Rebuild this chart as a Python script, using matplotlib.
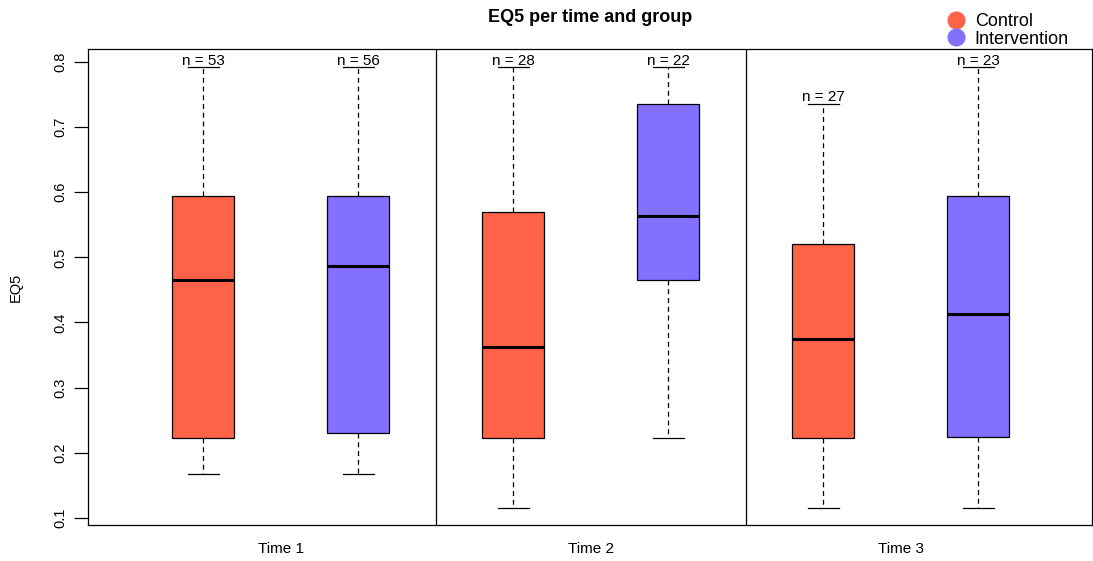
import matplotlib
matplotlib.use("Agg")
import matplotlib.pyplot as plt
from matplotlib.lines import Line2D

plt.rcParams['font.family'] = ['Liberation Sans', 'DejaVu Sans']

# box statistics, order: T1 ctrl, T1 int, T2 ctrl, T2 int, T3 ctrl, T3 int
groups = ["Control", "Intervention", "Control", "Intervention", "Control", "Intervention"]
whislo = [0.168, 0.168, 0.115, 0.223, 0.115, 0.115]
q1 = [0.223, 0.230, 0.223, 0.465, 0.223, 0.224]
med = [0.465, 0.486, 0.362, 0.564, 0.374, 0.413]
q3 = [0.595, 0.595, 0.570, 0.736, 0.520, 0.595]
whishi = [0.792, 0.792, 0.792, 0.792, 0.736, 0.792]
counts = [53, 56, 28, 22, 27, 23]
times = ["Time 1", "Time 2", "Time 3"]
colors = {"Control": "#FF6347", "Intervention": "#8470FF"}

stats = [dict(whislo=a, q1=b, med=c, q3=d, whishi=e, fliers=[])
         for a, b, c, d, e in zip(whislo, q1, med, q3, whishi)]
pos = list(range(1, len(stats) + 1))

fig = plt.figure(figsize=(10.93, 5.61), dpi=100)
ax = fig.add_axes([88 / 1093, 36 / 561, 1004 / 1093, 476 / 561])

bp = ax.bxp(stats, positions=pos, widths=0.4, patch_artist=True, showfliers=False,
            boxprops=dict(edgecolor="black", linewidth=0.9),
            medianprops=dict(color="black", linewidth=2.2),
            whiskerprops=dict(color="black", linestyle=(0, (4, 3)), linewidth=0.9),
            capprops=dict(color="black", linewidth=0.9), capwidths=0.2)
for patch, g in zip(bp["boxes"], groups):
    patch.set_facecolor(colors[g])

# sample sizes above the upper whiskers
for p, hi, n in zip(pos, whishi, counts):
    ax.text(p, hi - 0.001, f"n = {n}", ha="center", va="bottom", fontsize=11)

for x in (2.5, 4.5):
    ax.axvline(x, color="black", linewidth=0.9)

ax.set_xlim(0.258, 6.735)
ax.set_ylim(0.089, 0.82)
ax.set_xticks([1.5, 3.5, 5.5])
ax.set_xticklabels(times, fontsize=11)
ax.tick_params(axis="x", length=0, pad=12)
ax.set_yticks([0.1, 0.2, 0.3, 0.4, 0.5, 0.6, 0.7, 0.8])
ax.set_yticklabels(["0.1", "0.2", "0.3", "0.4", "0.5", "0.6", "0.7", "0.8"],
                   rotation=90, va="center", fontsize=10.5)
ax.tick_params(axis="y", length=10, width=0.9, pad=5)
ax.set_ylabel("EQ5", fontsize=10.5, labelpad=22)
for s in ax.spines.values():
    s.set_linewidth(0.9)

fig.text(590 / 1093, 1 - 18 / 561, "EQ5 per time and group", ha="center", va="center",
         fontsize=13, fontweight="bold")

handles = [Line2D([], [], marker="o", linestyle="none", markersize=12,
                  markerfacecolor=colors[g], markeredgecolor=colors[g], label=g)
           for g in ("Control", "Intervention")]
fig.legend(handles=handles, loc="upper left", bbox_to_anchor=(935 / 1093, 0.99),
           frameon=False, fontsize=13, handletextpad=0.3, labelspacing=0.05,
           borderaxespad=0.0, handlelength=1.5)

fig.savefig("out.png", dpi=100)
